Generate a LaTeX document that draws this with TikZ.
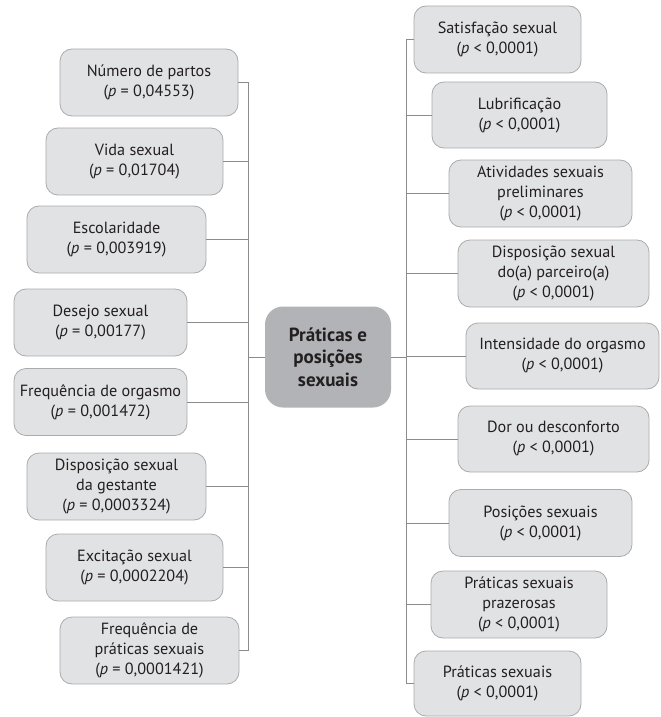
\documentclass[tikz,border=0pt]{standalone}
\usepackage{fontspec}
\setmainfont{PT Sans}
\definecolor{boxfill}{HTML}{E1E2E3}
\definecolor{boxline}{HTML}{A9ABAE}
\definecolor{centerfill}{HTML}{B1B3B6}
\definecolor{linkcol}{HTML}{8A8C8E}
\definecolor{txt}{HTML}{231F20}
\begin{document}
\begin{tikzpicture}[x=1bp,y=-1bp,
  item/.style={draw=boxline,fill=boxfill,line width=0.8bp,rounded corners=12bp,
    align=center,inner sep=0pt,minimum height=67bp,text=txt,
    font=\fontsize{16.2bp}{20bp}\selectfont},
  hub/.style={draw=none,fill=centerfill,rounded corners=18bp,align=center,
    inner sep=0pt,minimum width=126bp,minimum height=101bp,text=txt,
    font=\fontsize{19bp}{22.5bp}\selectfont\bfseries},
  link/.style={draw=linkcol,line width=0.8bp}]
\useasboundingbox (0,0) rectangle (661,717);
% left
\node[item,minimum width=178bp] (L1) at (149,82.5) {Número de partos\\(\textit{p} = 0,04553)};
\node[item,minimum width=177bp] (L2) at (134.5,161.5) {Vida sexual\\(\textit{p} = 0,01704)};
\node[item,minimum width=179bp] (L3) at (116.5,239.5) {Escolaridade\\(\textit{p} = 0,003919)};
\node[item,minimum width=173bp] (L4) at (100.5,322.5) {Desejo sexual\\(\textit{p} = 0,00177)};
\node[item,minimum width=173bp] (L5) at (100.5,402) {Frequência de orgasmo\\(\textit{p} = 0,001472)};
\node[item,minimum width=179bp] (L6) at (116.5,486.5) {Disposição sexual\\da gestante\\(\textit{p} = 0,0003324)};
\node[item,minimum width=177bp] (L7) at (134.5,567.5) {Excitação sexual\\(\textit{p} = 0,0002204)};
\node[item,minimum width=179bp] (L8) at (149.5,650.5) {Frequência de\\práticas sexuais\\(\textit{p} = 0,0001421)};
% center
\node[hub] (C) at (328,357) {Práticas e\\posições\\sexuais};
% right
\node[item,minimum width=167bp] (R1) at (497.5,39.5) {Satisfação sexual\\(\textit{p} < 0,0001)};
\node[item,minimum width=175bp,minimum height=66bp] (R2) at (519.5,115) {Lubrificação\\(\textit{p} < 0,0001)};
\node[item,minimum width=183bp] (R3) at (540.5,193.5) {Atividades sexuais\\preliminares\\(\textit{p} < 0,0001)};
\node[item,minimum width=191bp] (R4) at (553.5,273.5) {Disposição sexual\\do(a) parceiro(a)\\(\textit{p} < 0,0001)};
\node[item,minimum width=193bp,minimum height=66bp] (R5) at (562.5,356) {Intensidade do orgasmo\\(\textit{p} < 0,0001)};
\node[item,minimum width=191bp,minimum height=66bp] (R6) at (553.5,439) {Dor ou desconforto\\(\textit{p} < 0,0001)};
\node[item,minimum width=183bp] (R7) at (540.5,523) {Posições sexuais\\(\textit{p} < 0,0001)};
\node[item,minimum width=176bp] (R8) at (519,604.5) {Práticas sexuais\\prazerosas\\(\textit{p} < 0,0001)};
\node[item,minimum width=167bp,minimum height=65bp] (R9) at (497.5,683.5) {Práticas sexuais\\(\textit{p} < 0,0001)};
% connectors
\coordinate (lb) at (248,0);
\coordinate (rb) at (406,0);
\foreach \n in {L1,L2,L3,L4,L5,L6,L7,L8}
  \draw[link] (\n.east) -- (\n.east -| lb);
\draw[link] (L1.east -| lb) -- (L8.east -| lb);
\foreach \n in {R1,R2,R3,R4,R5,R6,R7,R8,R9}
  \draw[link] (\n.west) -- (\n.west -| rb);
\draw[link] (R1.west -| rb) -- (R9.west -| rb);
\draw[link] (C.west) -- (C.west -| lb);
\draw[link] (C.east) -- (C.east -| rb);
\end{tikzpicture}
\end{document}
